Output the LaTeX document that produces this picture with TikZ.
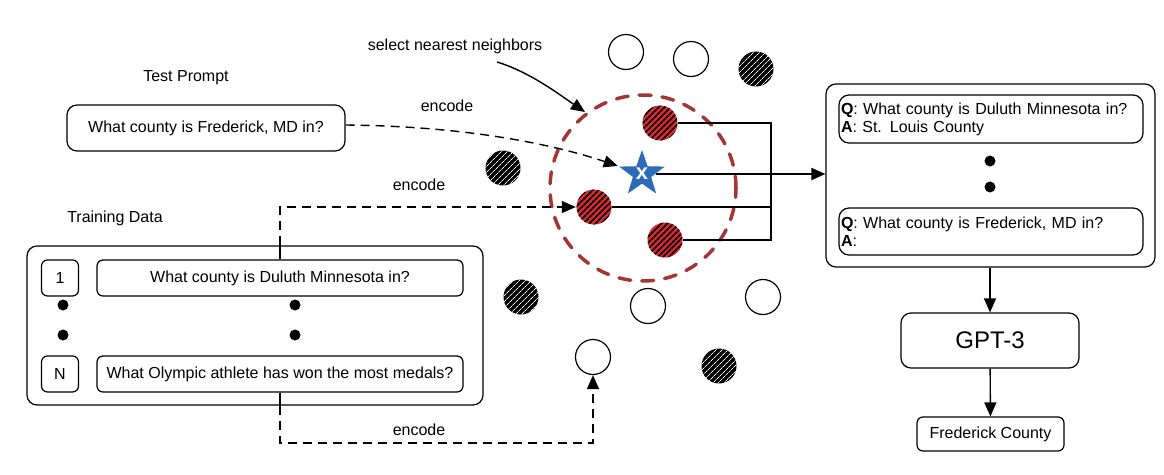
\documentclass[tikz,border=0pt]{standalone}
\usepackage{fontspec}
\setmainfont{Liberation Sans}
\usetikzlibrary{shapes}
\usetikzlibrary{calc}
\usetikzlibrary{positioning}
\usetikzlibrary{arrows.meta}
\usetikzlibrary{patterns.meta}

\definecolor{hoodred}{HTML}{A33535}
\definecolor{nbrred}{HTML}{D42A32}
\definecolor{starblue}{HTML}{2B6BB8}

\begin{document}
\begin{tikzpicture}[x = 1pt, y = -1pt, black, line width = 1.4pt,
    box/.style = {draw, line width = 1.2pt, rounded corners = 8pt, inner sep = 0pt, font = \fontsize{16}{19}\selectfont},
    lbl/.style = {font = \fontsize{16}{19}\selectfont},
    dot/.style = {circle, fill = black, inner sep = 0pt, minimum size = 11pt},
    pt/.style = {circle, inner sep = 0pt, minimum size = 35pt},
    emb/.style = {pt, draw, line width = 1.2pt, fill = white},
    nbr/.style = {pt, preaction = {fill = nbrred}, pattern = {Lines[angle = 45, distance = 4pt, line width = 1.8pt]}, pattern color = black},
    far/.style = {pt, preaction = {fill = black}, pattern = {Lines[angle = 45, distance = 4pt, line width = 0.8pt]}, pattern color = white},
    arr/.style = {-{Triangle[length = 14pt, width = 12pt]}},
    dasharr/.style = {arr, dash pattern = on 9pt off 6pt}
    ]
    \useasboundingbox (0,0) rectangle (1164,474);

    % test prompt
    \node (testlbl) at (186,78) [lbl] {Test Prompt};
    \node (test) at (206,128) [box, rounded corners = 10pt, minimum width = 278pt, minimum height = 46pt] {What county is Frederick, MD in?};

    % training data
    \node (trainlbl) at (115,218) [lbl] {Training Data};
    \node (train) at (255,325.5) [box, rounded corners = 10pt, minimum width = 456pt, minimum height = 159pt] {};
    \node (num1) at (60,278) [box, rounded corners = 6pt, minimum width = 37pt, minimum height = 36pt] {1};
    \node (q1) at (280,278) [box, rounded corners = 6pt, minimum width = 366pt, minimum height = 36pt] {What county is Duluth Minnesota in?};
    \node (numN) at (60,374) [box, rounded corners = 6pt, minimum width = 37pt, minimum height = 36pt] {N};
    \node (qN) at (280,374) [box, rounded corners = 6pt, minimum width = 366pt, minimum height = 36pt] {What Olympic athlete has won the most medals?};
    \node (d1) at (63,305) [dot] {};
    \node (d2) at (63,335) [dot] {};
    \node (d3) at (295,305) [dot] {};
    \node (d4) at (295,335) [dot] {};

    % embedding space
    \node (hood) at (643,188) [circle, draw = hoodred, line width = 3.5pt, line cap = round, dash pattern = on 12pt off 11pt, minimum size = 186pt] {};

    \node (w1) at (626,52) [emb] {};
    \node (w2) at (691,59) [emb] {};
    \node (w3) at (648,306) [emb] {};
    \node (w4) at (763,297) [emb] {};
    \node (w5) at (593,357) [emb] {};
    \node (k1) at (756,69) [far] {};
    \node (k2) at (503,168) [far] {};
    \node (k3) at (521,297) [far] {};
    \node (k4) at (719,366) [far] {};
    \node (r1) at (660,123) [nbr] {};
    \node (r2) at (594,207) [nbr] {};
    \node (r3) at (665,240) [nbr] {};

    \node (x) at (642,174) [star, star points = 5, star point ratio = 2.5, fill = starblue, inner sep = 0pt, minimum size = 48pt, text = white, font = \fontsize{22}{22}\selectfont\bfseries] {x};

    \node (sel) at (455,46) [lbl] {select nearest neighbors};
    \coordinate (selstart) at (497,62);
    \coordinate (seltip) at (585,112);
    \draw[arr] (selstart) .. controls (530,72) and (560,95) .. (seltip);

    % encode arrows
    \draw[dasharr] ([yshift = 3pt]test.east) .. controls (450,126) and (540,140) .. (x);
    \node (enc1) at (447,106) [lbl] {encode};

    \draw (q1.north) -- (q1.north |- train.north);
    \draw[dasharr] (q1.north |- train.north) |- (r2);
    \node (enc2) at (419,185) [lbl] {encode};

    \draw (qN.south) -- (qN.south |- train.south);
    \draw[dasharr] (qN.south |- train.south) -- (280,443) -| (w5);
    \node (enc3) at (419,430) [lbl] {encode};

    % neighbours to the prompt
    \coordinate (bx) at (771,0);
    \draw (r1) -- (r1 -| bx) -- (r3 -| bx) -- (r3);
    \draw (r2) -- (r2 -| bx);

    \node (ctx) at (990.5,175.5) [box, rounded corners = 10pt, minimum width = 329pt, minimum height = 183pt] {};
    \draw[arr, line width = 1.8pt] (x) -- (ctx.west |- x);

    \node (qa1) at (991,119) [box, rounded corners = 10pt, text width = 300pt, align = left, inner sep = 2pt, minimum height = 48pt, font = \fontsize{16}{18}\selectfont] {\textbf{Q}: What county is Duluth Minnesota in?\\\textbf{A}: St. Louis County};
    \node (d5) at (990,161) [dot] {};
    \node (d6) at (990,187) [dot] {};
    \node (qa2) at (991,231.5) [box, rounded corners = 10pt, text width = 300pt, align = left, inner sep = 2pt, minimum height = 47pt, font = \fontsize{16}{18}\selectfont] {\textbf{Q}: What county is Frederick, MD in?\\\textbf{A}:};

    \node (gpt) at (990,340.5) [box, rounded corners = 10pt, minimum width = 178pt, minimum height = 55pt, font = \fontsize{24}{28}\selectfont] {GPT-3};
    \node (ans) at (990.5,434) [box, rounded corners = 6pt, minimum width = 147pt, minimum height = 34pt] {Frederick County};

    \draw[arr] (ctx.south -| gpt) -- (gpt);
    \draw[arr] (gpt) -- (ans);

\end{tikzpicture}
\end{document}
